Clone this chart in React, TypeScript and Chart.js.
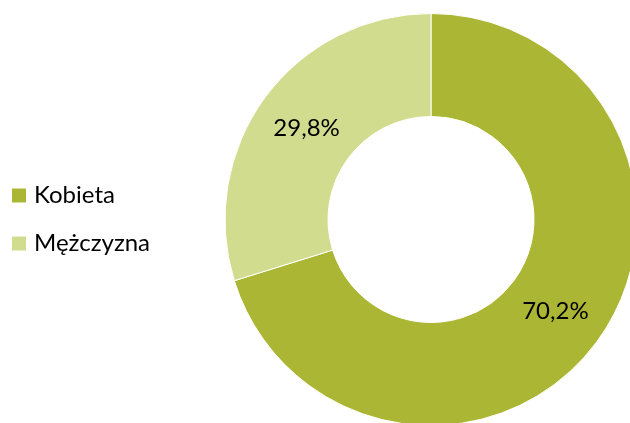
import React, { useEffect, useRef } from 'react';
import { Chart, registerables } from 'chart.js';

Chart.register(...registerables);

// ---- data ----
const categories = ['Kobieta', 'Mężczyzna'];
const shares = [70.2, 29.8];
const sliceColors = ['#ABB734', '#D2DC8E'];

const FONT_FAMILY = 'Lato, "Open Sans", sans-serif';
const FONT_SIZE = 24;
const LEGEND_W = 225;

export default function App() {
  const ref = useRef<HTMLCanvasElement>(null);

  useEffect(() => {
    const canvas = ref.current;
    if (!canvas) return;

    const sliceLabels = {
      id: 'sliceLabels',
      afterDatasetsDraw(chart: any) {
        const ctx = chart.ctx;
        const meta = chart.getDatasetMeta(0);
        ctx.save();
        ctx.font = `${FONT_SIZE}px ${FONT_FAMILY}`;
        ctx.fillStyle = '#000000';
        ctx.textAlign = 'center';
        ctx.textBaseline = 'middle';
        meta.data.forEach((arc: any, i: number) => {
          const p = arc.tooltipPosition(false);
          ctx.fillText(shares[i].toFixed(1).replace('.', ',') + '%', p.x, p.y);
        });
        ctx.restore();
      },
    };

    const legendWidth = {
      id: 'legendWidth',
      beforeLayout(chart: any) {
        const lg = chart.legend;
        if (lg && !lg.__fixedWidth) {
          const fit = lg.fit.bind(lg);
          lg.fit = () => {
            fit();
            lg.width = LEGEND_W;
          };
          lg.__fixedWidth = true;
        }
      },
    };

    const baseGen = (Chart as any).overrides.doughnut.plugins.legend.labels.generateLabels;

    const chart = new Chart(canvas, {
      type: 'doughnut',
      data: {
        labels: categories,
        datasets: [
          {
            data: shares,
            backgroundColor: sliceColors,
            borderColor: '#ffffff',
            borderWidth: 1,
          },
        ],
      },
      options: {
        responsive: false,
        animation: false,
        events: [],
        cutout: '50%',
        layout: { padding: { left: 0, right: 27, top: 13, bottom: 14 } },
        plugins: {
          tooltip: { enabled: false },
          legend: {
            position: 'left',
            align: 'center',
            labels: {
              boxWidth: 6,
              boxHeight: 6,
              padding: 24,
              color: '#000000',
              font: { family: FONT_FAMILY, size: FONT_SIZE },
              generateLabels(c: any) {
                return baseGen(c).map((it: any) => ({
                  ...it,
                  strokeStyle: it.fillStyle,
                  lineWidth: 8,
                  lineJoin: 'miter',
                }));
              },
            },
          },
        },
      },
      plugins: [sliceLabels, legendWidth],
    } as any);

    return () => chart.destroy();
  }, []);

  return (
    <div
      style={{
        position: 'fixed',
        left: 0,
        top: 0,
        width: 630,
        height: 423,
        overflow: 'hidden',
        background: '#ffffff',
      }}
    >
      <canvas
        ref={ref}
        width={680}
        height={440}
        style={{ position: 'absolute', left: -8, top: 0, width: 680, height: 440 }}
      />
    </div>
  );
}
